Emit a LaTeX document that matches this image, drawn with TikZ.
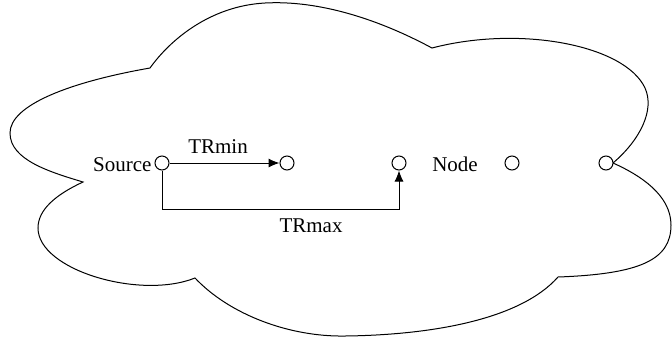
\documentclass[tikz,border=0pt]{standalone}
\usepackage{fontspec}
\setmainfont{Liberation Serif}
\usetikzlibrary{arrows.meta}
\begin{document}
\begin{tikzpicture}[x=1pt,y=-1pt,
  line width=1pt,
  dot/.style={circle,draw,fill=white,minimum size=14pt,inner sep=0pt,line width=1pt},
  lbl/.style={font=\fontsize{21}{25}\selectfont,inner sep=0pt},
  arr/.style={-{Latex[length=11pt,width=9pt]}}]
\useasboundingbox (0,0) rectangle (672,341);
% cloud
\draw (150,68) .. controls (170,40) and (210,6) .. (265,3)
  .. controls (320,0) and (380,20) .. (432,48)
  .. controls (520,25) and (625,45) .. (645,88)
  .. controls (655,110) and (640,140) .. (613,163)
  .. controls (640,175) and (671,195) .. (671,225)
  .. controls (671,260) and (640,274) .. (558,277)
  .. controls (520,320) and (430,335) .. (345,336)
  .. controls (290,337) and (230,315) .. (195,278)
  .. controls (140,300) and (38,270) .. (38,228)
  .. controls (38,210) and (55,195) .. (83,182)
  .. controls (50,172) and (10,160) .. (10,133)
  .. controls (10,105) and (70,82) .. cycle;
% nodes
\node[dot] (src) at (162,163) {};
\node[dot] (n2) at (287,163) {};
\node[dot] (n3) at (399,163) {};
\node[dot] (n4) at (512,163) {};
\node[dot] (n5) at (606,163) {};
\node[lbl,anchor=base east] (srcl) at (152,171) {Source};
\node[lbl,anchor=base] (trmin) at (218,153) {TRmin};
\node[lbl,anchor=base] (trmax) at (311,232) {TRmax};
\node[lbl,anchor=base] (nodel) at (455,171) {Node};
\coordinate (c1) at (162,209);
\coordinate (c2) at (399,209);
\draw[arr] (src) -- (n2);
\draw[arr] (src.south) -- (c1) -- (c2) -- (n3.south);
\end{tikzpicture}
\end{document}
